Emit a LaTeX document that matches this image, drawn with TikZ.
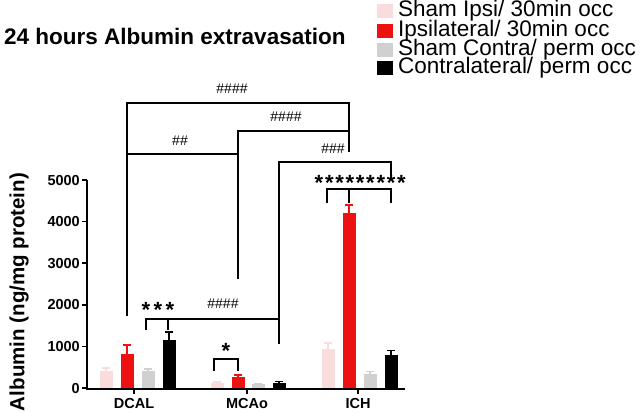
\documentclass[tikz,border=0pt]{standalone}
\usepackage{fontspec}
\setmainfont{Liberation Sans}
\definecolor{cpink}{HTML}{F9DCDC}
\definecolor{cred}{HTML}{EE1111}
\definecolor{cgray}{HTML}{D0D0D0}
\begin{document}
\begin{tikzpicture}[x=1pt,y=-1pt,
  brk/.style={line width=2pt,line cap=rect},
  axisline/.style={line width=1.6pt},
  lbl/.style={font=\bfseries\fontsize{14.5}{14.5}\selectfont},
  hash/.style={font=\fontsize{14}{14}\selectfont},
  star/.style={font=\bfseries\fontsize{22}{22}\selectfont,inner sep=0},
  leg/.style={font=\fontsize{22.5}{22.5}\selectfont,anchor=west,inner sep=0}]
\useasboundingbox (0,0) rectangle (644,413);
\def\Y#1{388-#1*0.0416}
% bars
\foreach \x/\v/\e/\c in {106/420/480/cpink,127/820/1040/cred,148/400/460/cgray,169/1160/1350/black,
  217/130/150/cpink,238/260/310/cred,258/100/110/cgray,279/120/160/black,
  328/930/1080/cpink,349/4200/4400/cred,370/330/400/cgray,391/790/900/black}{
  \fill[\c] (\x-6.5,{\Y{\v}}) rectangle (\x+6.5,388);
  \draw[\c,line width=1.6pt] (\x,{\Y{\v}}) -- (\x,{\Y{\e}}) (\x-4,{\Y{\e}}) -- (\x+4,{\Y{\e}});
}
% axes
\draw[axisline] (87,180) -- (87,389) -- (405,389);
\foreach \v in {0,1000,...,5000}{
  \draw[axisline] (82,{\Y{\v}}) -- (87,{\Y{\v}});
  \node[lbl,anchor=east,inner sep=1pt] (t\v) at (81,{\Y{\v}}) {\v};
}
\foreach \x/\n in {134/DCAL,247/MCAo,358/ICH}{
  \draw[axisline] (\x,389) -- (\x,394);
  \node[lbl,anchor=north,inner sep=0] (g\n) at (\x,398) {\n};
}
\node[rotate=90,font=\bfseries\fontsize{20.5}{20.5}\selectfont] (ylab) at (19,292) {Albumin (ng/mg protein)};
\node[font=\bfseries\fontsize{22.5}{22.5}\selectfont,anchor=west,inner sep=0] (title) at (4,36) {24 hours Albumin extravasation};
% legend
\foreach \yy/\c/\t [count=\i] in {11/cpink/{Sham Ipsi/ 30min occ},31/cred/{Ipsilateral/ 30min occ},50/cgray/{Sham Contra/ perm occ},68/black/{Contralateral/ perm occ}}{
  \fill[\c] (377,\yy-7) rectangle (393,\yy+7);
  \node[leg] (leg\i) at (398,\yy) {\t};
}
% brackets
\draw[brk] (127,315) -- (127,103) -- (349,103) -- (349,151);
\node[hash] (h1) at (232,89) {\#\#\#\#};
\draw[brk] (127,154) -- (238,154);
\node[hash] (h2) at (180,141) {\#\#};
\draw[brk] (238,278) -- (238,131) -- (349,131);
\node[hash] (h3) at (286,117) {\#\#\#\#};
\draw[brk] (279,343) -- (279,162) -- (391,162) -- (391,174);
\node[hash] (h4) at (333,149) {\#\#\#};
\draw[brk] (327,202) -- (327,189) -- (391,189) -- (391,202) (349,189) -- (349,202);
\foreach \k in {0,...,8}{\node[star] (sa\k) at (319+\k*10.3,183) {*};}
\draw[brk] (146,329) -- (146,319) -- (279,319) (168,319) -- (168,329);
\foreach \k in {0,...,2}{\node[star] (sb\k) at (146+\k*12,310) {*};}
\node[hash] (h5) at (223,304) {\#\#\#\#};
\draw[brk] (214,370) -- (214,359) -- (238,359) -- (238,370);
\node[star] (s3) at (226,351) {*};
\end{tikzpicture}
\end{document}
